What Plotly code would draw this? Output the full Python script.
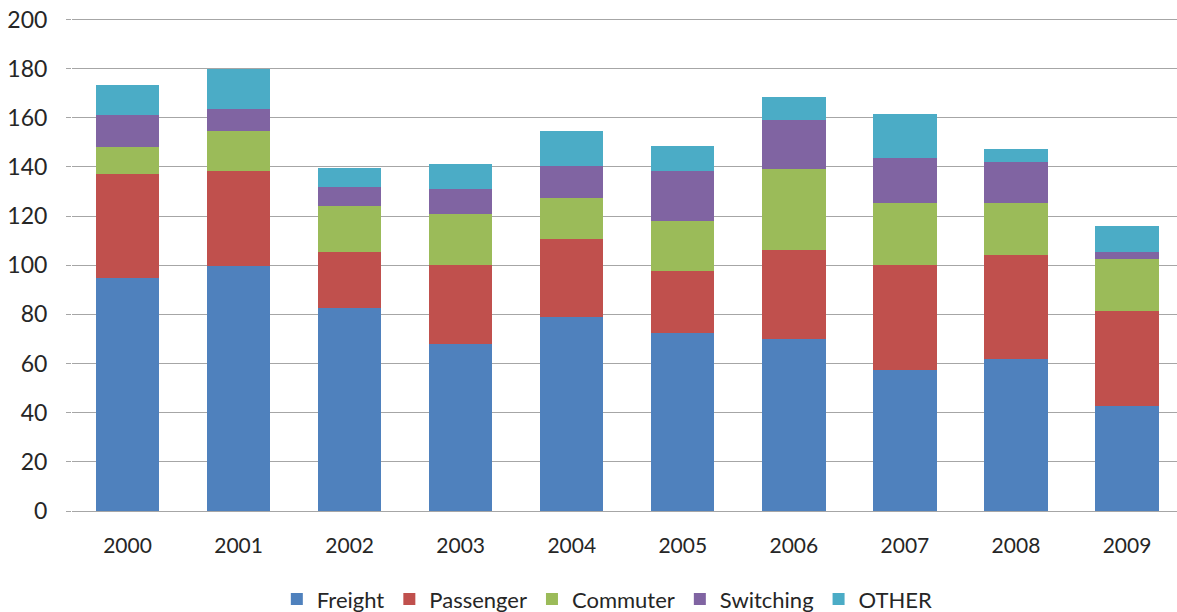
import plotly.graph_objects as go

years = ["2000", "2001", "2002", "2003", "2004", "2005", "2006", "2007", "2008", "2009"]
freight = [95, 99.5, 82.5, 68, 79, 72.5, 70, 57.5, 61.7, 42.7]
passenger = [42, 39, 22.7, 32, 31.5, 25, 36, 42.5, 42.6, 38.7]
commuter = [11, 16, 19, 21, 17, 20.5, 33, 25.5, 21, 21]
switching = [13, 9, 7.5, 10, 13, 20.3, 20, 18.3, 16.7, 3]
other = [12.5, 16.5, 7.7, 10, 14, 10.2, 9.5, 17.7, 5.4, 10.4]

series = [
    ("Freight", freight, "#4F81BD"),
    ("Passenger", passenger, "#C0504D"),
    ("Commuter", commuter, "#9BBB59"),
    ("Switching", switching, "#8064A2"),
    ("OTHER", other, "#4BACC6"),
]

fig = go.Figure()
for name, vals, color in series:
    fig.add_trace(go.Bar(x=years, y=vals, name=name, marker_color=color,
                         marker_line_width=0, width=0.57))

fig.update_layout(
    barmode="stack",
    width=1177, height=612,
    margin=dict(l=72, r=0, t=17, b=101, autoexpand=False),
    paper_bgcolor="white", plot_bgcolor="white",
    font=dict(family="Lato", size=21, color="#262626"),
    legend=dict(orientation="h", xref="container", x=0.516, xanchor="center",
                yref="container", y=0.021, yanchor="middle",
                font=dict(size=22), traceorder="normal"),
    xaxis=dict(type="category", range=[-0.5, 9.45], showgrid=False,
               showline=True, linecolor="#A6A6A6", linewidth=1,
               ticks="", ticklabelstandoff=16, tickfont=dict(size=21)),
    yaxis=dict(range=[0, 201], dtick=20, showgrid=True, gridcolor="#A6A6A6",
               gridwidth=1, zeroline=False, showline=False,
               ticks="outside", ticklen=5, tickcolor="#A6A6A6",
               ticklabelstandoff=14, tickfont=dict(size=23)),
)

fig.write_html("out.html")
